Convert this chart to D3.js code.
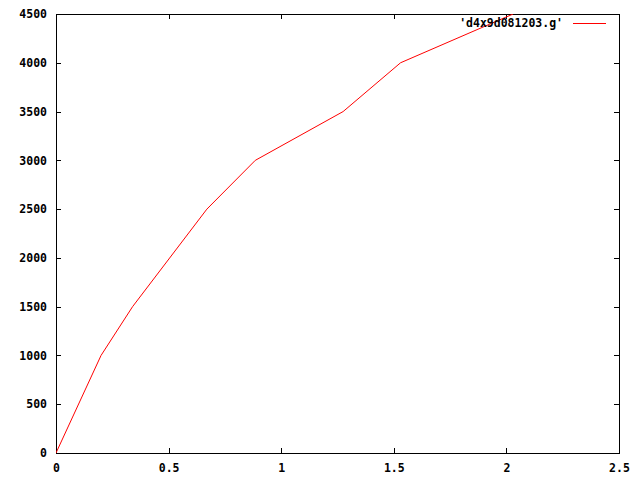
<!DOCTYPE html>
<html>
<head>
<meta charset="utf-8">
<script src="https://cdn.jsdelivr.net/npm/d3@7"></script>
<style>
  body { margin: 0; background: #fff; }
  text { font-family: "DejaVu Sans Mono", monospace; font-weight: bold; font-size: 11.5px; }
</style>
</head>
<body>
<div id="chart"></div>
<script>
// data
const xs = [0, 0.2, 0.34, 0.67, 0.885, 1.275, 1.53, 2.03];
const ys = [0, 1000, 1500, 2500, 3000, 3500, 4000, 4500];
const xTicks = [0, 0.5, 1, 1.5, 2, 2.5];
const yTicks = [0, 500, 1000, 1500, 2000, 2500, 3000, 3500, 4000, 4500];
const seriesName = "'d4x9d081203.g'";

const W = 640, H = 480;
const margin = {left: 56, right: 21, top: 14, bottom: 27};

const svg = d3.select("#chart").append("svg")
    .attr("width", W).attr("height", H);

const x = d3.scaleLinear().domain([0, 2.5]).range([margin.left, W - margin.right]);
const y = d3.scaleLinear().domain([0, 4500]).range([H - margin.bottom, margin.top]);

const tickLen = 5;
const fmt = d => String(d);

// bottom + top ticks (inward)
svg.append("g")
    .attr("transform", "translate(0," + y(0) + ")")
    .call(d3.axisBottom(x).tickValues(xTicks).tickSize(-tickLen).tickPadding(11).tickFormat(fmt))
    .call(g => g.select(".domain").remove());
svg.append("g")
    .attr("transform", "translate(0," + y(4500) + ")")
    .call(d3.axisTop(x).tickValues(xTicks).tickSize(-tickLen).tickFormat(""))
    .call(g => g.select(".domain").remove());

// left + right ticks (inward)
svg.append("g")
    .attr("transform", "translate(" + x(0) + ",0)")
    .call(d3.axisLeft(y).tickValues(yTicks).tickSize(-tickLen).tickPadding(9).tickFormat(fmt))
    .call(g => g.select(".domain").remove());
svg.append("g")
    .attr("transform", "translate(" + x(2.5) + ",0)")
    .call(d3.axisRight(y).tickValues(yTicks).tickSize(-tickLen).tickFormat(""))
    .call(g => g.select(".domain").remove());

svg.selectAll(".tick line").attr("stroke", "#000").attr("shape-rendering", "crispEdges");
svg.selectAll(".tick text").attr("fill", "#000")
    .style("font-family", "'DejaVu Sans Mono', monospace")
    .style("font-weight", "bold").style("font-size", "11.5px");

// frame
svg.append("rect")
    .attr("x", x(0)).attr("y", y(4500))
    .attr("width", x(2.5) - x(0)).attr("height", y(0) - y(4500))
    .attr("fill", "none").attr("stroke", "#000")
    .attr("shape-rendering", "crispEdges");

// clip for the data line
svg.append("clipPath").attr("id", "clip").append("rect")
    .attr("x", x(0)).attr("y", y(4500))
    .attr("width", x(2.5) - x(0)).attr("height", y(0) - y(4500));

const pts = xs.map((v, i) => [v, ys[i]]);
const line = d3.line().x(d => x(d[0])).y(d => y(d[1]));

svg.append("path")
    .datum(pts)
    .attr("clip-path", "url(#clip)")
    .attr("d", line)
    .attr("fill", "none")
    .attr("stroke", "#f00")
    .attr("stroke-width", 1);

// key
svg.append("text")
    .attr("x", 563).attr("y", 27)
    .attr("text-anchor", "end")
    .attr("fill", "#000")
    .text(seriesName);
svg.append("line")
    .attr("x1", 573).attr("x2", 606)
    .attr("y1", 23.5).attr("y2", 23.5)
    .attr("stroke", "#f00");
</script>
</body>
</html>
